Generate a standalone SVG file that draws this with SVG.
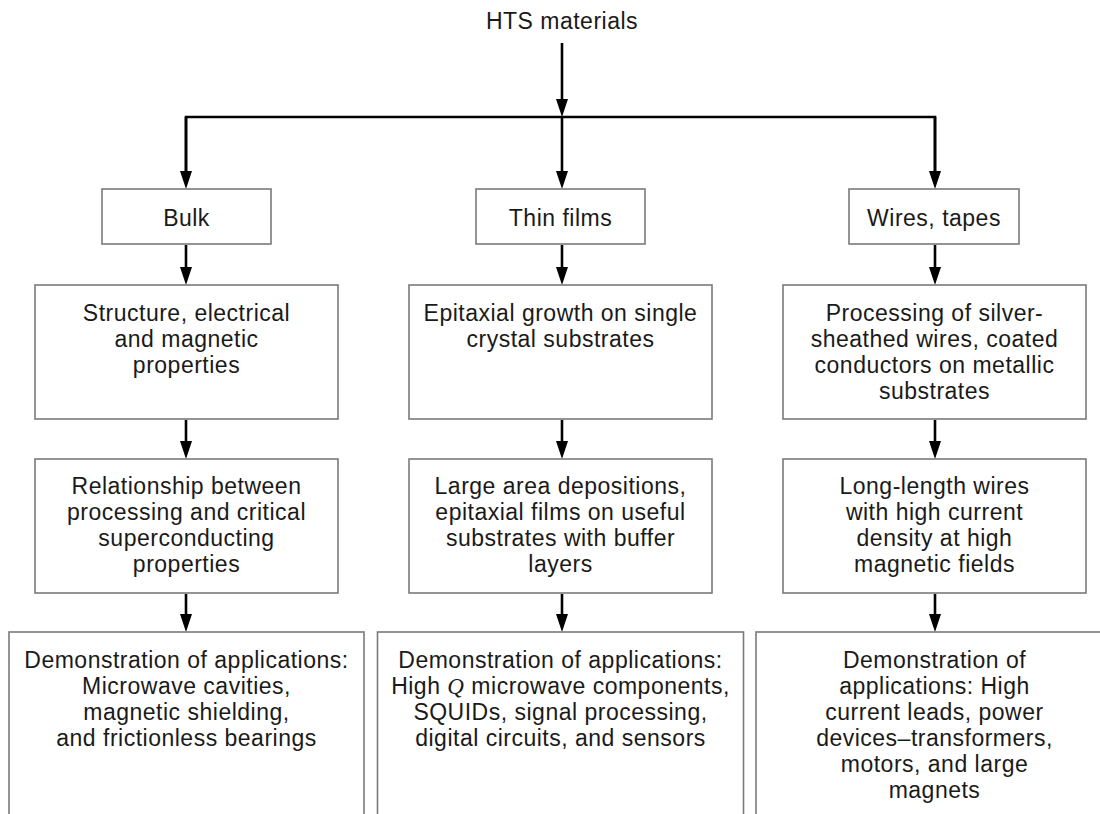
<svg xmlns="http://www.w3.org/2000/svg" width="1100" height="814" viewBox="0 0 1100 814">
<defs>
<marker id="ah" markerUnits="userSpaceOnUse" viewBox="0 0 18 12" refX="8" refY="6" markerWidth="18" markerHeight="12" orient="auto">
<path d="M0,0 L18,6 L0,12 z" fill="#000"/>
</marker>
</defs>
<style>
.box{fill:#fff;stroke:#7a7a7a;stroke-width:1.6}
.t{font-family:"Liberation Sans",Arial,sans-serif;font-size:23px;fill:#1a1a1a;text-anchor:middle;letter-spacing:0.5px}
.c{fill:none;stroke:#000;stroke-width:2.6}
.q{font-family:"Liberation Serif",serif;font-style:italic}
</style>
<rect width="1100" height="814" fill="#fff"/>
<g id="connectors">
<path class="c" d="M562,43 V107" marker-end="url(#ah)"/>
<path class="c" d="M186,179 V117 H935 V179"/>
<path class="c" d="M186,117 V179" marker-end="url(#ah)"/>
<path class="c" d="M562,117 V179" marker-end="url(#ah)"/>
<path class="c" d="M935,117 V179" marker-end="url(#ah)"/>
<path class="c" d="M186,245 V275" marker-end="url(#ah)"/>
<path class="c" d="M562,245 V275" marker-end="url(#ah)"/>
<path class="c" d="M935,245 V275" marker-end="url(#ah)"/>
<path class="c" d="M186,420 V449" marker-end="url(#ah)"/>
<path class="c" d="M562,420 V449" marker-end="url(#ah)"/>
<path class="c" d="M935,420 V449" marker-end="url(#ah)"/>
<path class="c" d="M186,594 V622" marker-end="url(#ah)"/>
<path class="c" d="M562,594 V622" marker-end="url(#ah)"/>
<path class="c" d="M935,594 V622" marker-end="url(#ah)"/>
</g>
<g id="hts"><text class="t" x="562" y="29">HTS materials</text></g>
<g id="bulk"><rect class="box" x="102" y="189" width="169" height="55"/><text class="t" x="186.5" y="226">Bulk</text></g>
<g id="thin"><rect class="box" x="476" y="189" width="169" height="55"/><text class="t" x="560.5" y="226">Thin films</text></g>
<g id="wires"><rect class="box" x="849" y="189" width="170" height="55"/><text class="t" x="934" y="226">Wires, tapes</text></g>
<g id="bulk2"><rect class="box" x="35" y="285" width="303" height="134"/>
<text class="t" x="186.5" y="321">Structure, electrical</text>
<text class="t" x="186.5" y="347">and magnetic</text>
<text class="t" x="186.5" y="373">properties</text></g>
<g id="thin2"><rect class="box" x="409" y="285" width="303" height="134"/>
<text class="t" x="560.5" y="321">Epitaxial growth on single</text>
<text class="t" x="560.5" y="347">crystal substrates</text></g>
<g id="wires2"><rect class="box" x="783" y="285" width="303" height="134"/>
<text class="t" x="934.5" y="321">Processing of silver-</text>
<text class="t" x="934.5" y="347">sheathed wires, coated</text>
<text class="t" x="934.5" y="373">conductors on metallic</text>
<text class="t" x="934.5" y="399">substrates</text></g>
<g id="bulk3"><rect class="box" x="35" y="459" width="303" height="134"/>
<text class="t" x="186.5" y="494">Relationship between</text>
<text class="t" x="186.5" y="520">processing and critical</text>
<text class="t" x="186.5" y="546">superconducting</text>
<text class="t" x="186.5" y="572">properties</text></g>
<g id="thin3"><rect class="box" x="409" y="459" width="303" height="134"/>
<text class="t" x="560.5" y="494">Large area depositions,</text>
<text class="t" x="560.5" y="520">epitaxial films on useful</text>
<text class="t" x="560.5" y="546">substrates with buffer</text>
<text class="t" x="560.5" y="572">layers</text></g>
<g id="wires3"><rect class="box" x="783" y="459" width="303" height="134"/>
<text class="t" x="934.5" y="494">Long-length wires</text>
<text class="t" x="934.5" y="520">with high current</text>
<text class="t" x="934.5" y="546">density at high</text>
<text class="t" x="934.5" y="572">magnetic fields</text></g>
<g id="bulk4"><rect class="box" x="9" y="632" width="355" height="200"/>
<text class="t" x="186.5" y="668">Demonstration of applications:</text>
<text class="t" x="186.5" y="694">Microwave cavities,</text>
<text class="t" x="186.5" y="720">magnetic shielding,</text>
<text class="t" x="186.5" y="746">and frictionless bearings</text></g>
<g id="thin4"><rect class="box" x="377.5" y="632" width="366" height="200"/>
<text class="t" x="560.5" y="668">Demonstration of applications:</text>
<text class="t" x="560.5" y="694">High <tspan class="q">Q</tspan> microwave components,</text>
<text class="t" x="560.5" y="720">SQUIDs, signal processing,</text>
<text class="t" x="560.5" y="746">digital circuits, and sensors</text></g>
<g id="wires4"><rect class="box" x="756" y="632" width="360" height="200"/>
<text class="t" x="934.5" y="668">Demonstration of</text>
<text class="t" x="934.5" y="694">applications: High</text>
<text class="t" x="934.5" y="720">current leads, power</text>
<text class="t" x="934.5" y="746">devices–transformers,</text>
<text class="t" x="934.5" y="772">motors, and large</text>
<text class="t" x="934.5" y="798">magnets</text></g>
</svg>
